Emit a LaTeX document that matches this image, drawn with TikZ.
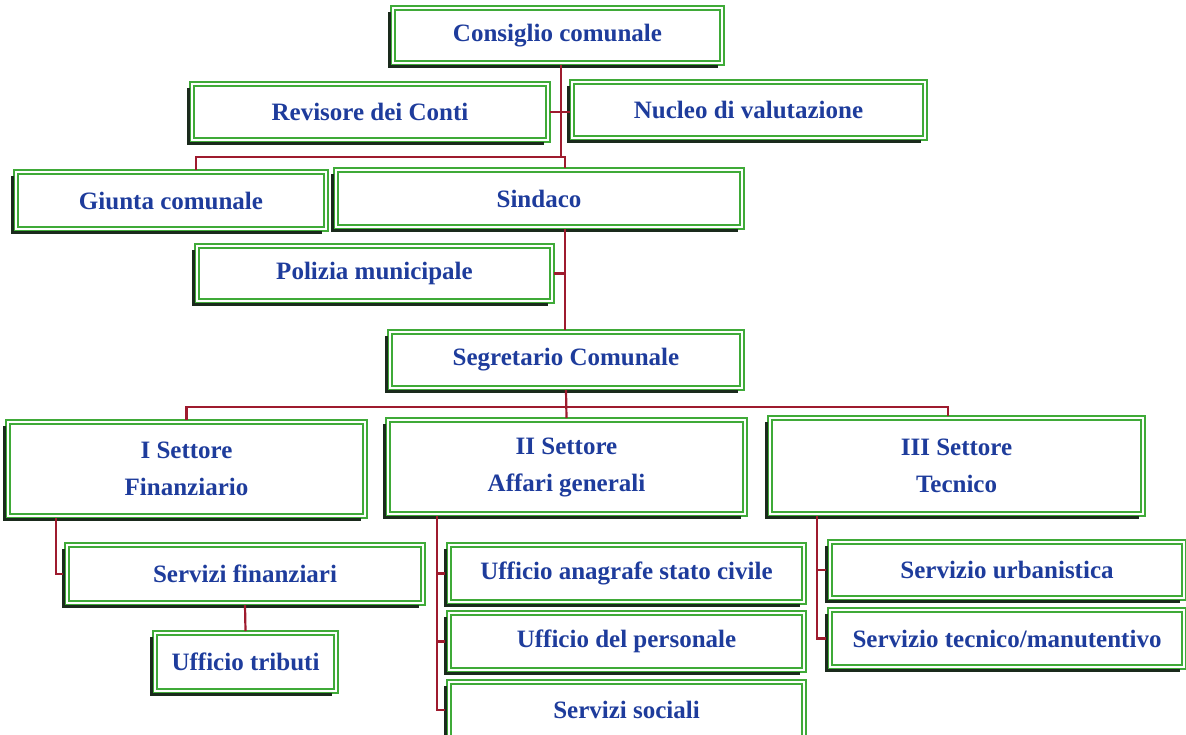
\documentclass[tikz,border=0pt]{standalone}
\usepackage{fontspec}
\setmainfont{Liberation Serif}
\definecolor{boxgreen}{HTML}{3FAA38}
\definecolor{txtblue}{HTML}{1E3C9C}
\definecolor{connred}{HTML}{9E1B2E}
\definecolor{shadowc}{HTML}{1A2A1C}
\tikzset{
  ob/.style={draw=boxgreen, double=white, double distance=1.6pt, line width=2.2pt,
    fill=white, inner sep=0pt, outer sep=0pt, text=txtblue, align=center,
    font=\bfseries\fontsize{25}{37}\selectfont},
  conn/.style={draw=connred, line width=2.2pt},
  shad/.style={draw=shadowc, line width=2.4pt}
}
\newcommand\obox[6]{\node[ob, minimum width=#4pt, minimum height=#5pt] (#1) at (#2,#3) {#6};}
\begin{document}
\begin{tikzpicture}[x=1pt,y=-1pt]
\useasboundingbox (0,0) rectangle (1186,735);
\obox{cc}{557.5}{35.5}{329}{55}{Consiglio comunale}
\obox{rev}{370}{112}{356}{56}{Revisore dei Conti}
\obox{nuc}{748.5}{110}{353}{56}{Nucleo di valutazione}
\obox{gc}{171}{200.5}{310}{57}{Giunta comunale}
\obox{sin}{539}{198.5}{406}{57}{Sindaco}
\obox{pol}{374.5}{273.5}{355}{55}{Polizia municipale}
\obox{seg}{566}{360}{352}{56}{Segretario Comunale}
\obox{s1}{186.5}{469}{357}{94}{I Settore\\Finanziario}
\obox{s2}{566.5}{467}{357}{94}{II Settore\\Affari generali}
\obox{s3}{956.5}{466}{373}{96}{III Settore\\Tecnico}
\obox{sf}{245}{574}{356}{58}{Servizi finanziari}
\obox{ut}{245.5}{662}{181}{58}{Ufficio tributi}
\obox{ua}{626.5}{573.5}{355}{57}{Ufficio anagrafe stato civile}
\obox{up}{626.5}{641.5}{355}{57}{Ufficio del personale}
\obox{ss}{626.5}{710}{355}{56}{Servizi sociali}
\obox{su}{1007}{570}{354}{56}{Servizio urbanistica}
\obox{st}{1007}{638.5}{354}{57}{Servizio tecnico/manutentivo}
% shadows
\foreach \n in {cc,rev,nuc,gc,sin,pol,seg,s1,s2,s3,sf,ut,ua,up,ss,su,st}{
  \draw[shad] ([xshift=-3.5pt,yshift=-4pt]\n.north west) -- ([xshift=-3.5pt,yshift=-3.5pt]\n.south west) -- ([xshift=-4pt,yshift=-3.5pt]\n.south east);
}
% connectors
\coordinate (j1) at (0,157);
\coordinate (j2) at (0,407);
\coordinate (c0) at ([xshift=3.5pt]cc.south);
\coordinate (gt) at ([xshift=25pt]gc.north);
\coordinate (sx) at ([xshift=26pt]sin.north);
\coordinate (sy) at ([xshift=26pt]sin.south);
\coordinate (s3t) at ([xshift=-8.5pt]s3.north);
\coordinate (a1) at ([xshift=-130.5pt]s1.south);
\coordinate (a2) at ([xshift=-129.5pt]s2.south);
\coordinate (a3) at ([xshift=-139.5pt]s3.south);
\draw[conn] ([yshift=-2pt]c0) |- (gt |- j1) -- ([yshift=2pt]gt);
\draw[conn] (c0 |- j1) -| ([yshift=2pt]sx);
\draw[conn] ([xshift=2pt]rev.east) -- ([xshift=-2pt]rev.east -| nuc.west);
\draw[conn] ([yshift=-2pt]sy) -- ([yshift=2pt]sy |- seg.north);
\draw[conn] ([xshift=2pt]pol.east) -- (pol.east -| sy);
\draw[conn] ([yshift=-2pt]seg.south) -- ([yshift=2pt]s2.north);
\draw[conn] ([yshift=2pt]s1.north) |- (j2 -| s3t) -- ([yshift=2pt]s3t);
\draw[conn] ([yshift=-2pt]a1) |- ([xshift=-4pt]sf.west);
\draw[conn] ([yshift=-2pt]sf.south) -- ([yshift=2pt]ut.north);
\draw[conn] ([yshift=-2pt]a2) |- ([xshift=-4pt]ss.west);
\draw[conn] (a2 |- ua.west) -- ([xshift=-4pt]ua.west);
\draw[conn] (a2 |- up.west) -- ([xshift=-4pt]up.west);
\draw[conn] ([yshift=-2pt]a3) |- ([xshift=-4pt]st.west);
\draw[conn] (a3 |- su.west) -- ([xshift=-4pt]su.west);
\end{tikzpicture}
\end{document}
